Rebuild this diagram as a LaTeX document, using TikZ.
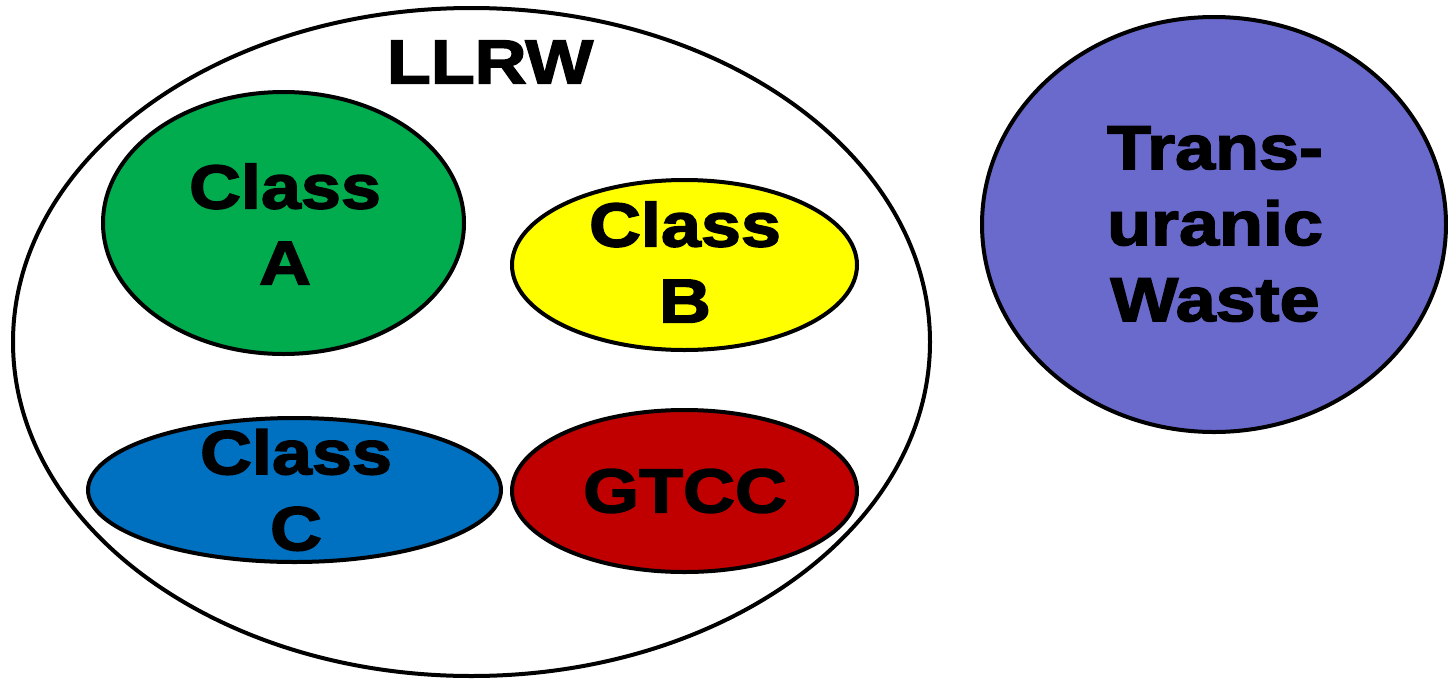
\documentclass[tikz,border=0pt]{standalone}
\usepackage{fontspec}
\setmainfont{Liberation Sans}[FakeStretch=1.16,BoldFeatures={FakeBold=2.5}]
\usetikzlibrary{shapes.geometric}
\definecolor{cA}{HTML}{00AC4E}
\definecolor{cB}{HTML}{FFFF00}
\definecolor{cC}{HTML}{0070C0}
\definecolor{cG}{HTML}{C00000}
\definecolor{cT}{HTML}{6A6ACC}
\tikzset{
  blob/.style={ellipse, draw=black, line width=4pt, inner sep=0pt},
  lbl/.style={align=center, inner sep=0pt, font=\fontsize{62}{76}\selectfont\bfseries}
}
\begin{document}
\begin{tikzpicture}[x=1pt,y=-1pt]
\useasboundingbox (0,0) rectangle (1448,678);
\node[blob, fill=white, minimum width=917pt, minimum height=668pt] (llrw) at (471.5,342) {};
\node[lbl] (llrwt) at (490,62) {LLRW};
\node[blob, fill=cA, minimum width=361pt, minimum height=262pt] (a) at (283.5,223) {};
\node[lbl] (at) at (285,224) {Class\\A};
\node[blob, fill=cB, minimum width=345pt, minimum height=170pt] (b) at (684.5,265) {};
\node[lbl] (bt) at (685,262) {Class\\B};
\node[blob, fill=cC, minimum width=413pt, minimum height=144pt] (c) at (294.5,490) {};
\node[lbl] (ct) at (296,490) {Class\\C};
\node[blob, fill=cG, minimum width=345pt, minimum height=162pt] (g) at (684.5,491) {};
\node[lbl] (gt) at (685,491) {GTCC};
\node[blob, fill=cT, minimum width=464pt, minimum height=415pt] (t) at (1214,224.5) {};
\node[lbl] (tt) at (1215,224) {Trans-\\uranic\\Waste};
\end{tikzpicture}
\end{document}
